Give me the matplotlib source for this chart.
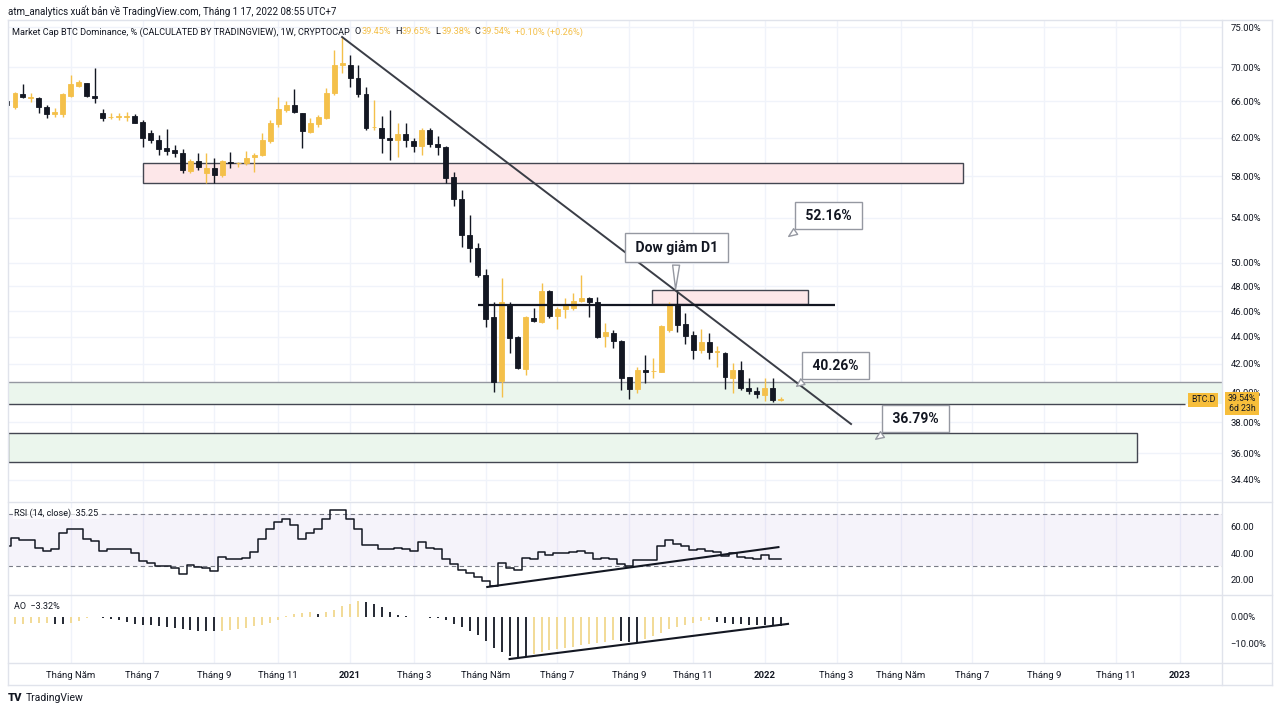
import matplotlib
matplotlib.use('Agg')
import matplotlib.pyplot as plt
import numpy as np
from matplotlib.patches import Rectangle
from matplotlib.lines import Line2D
from matplotlib.ticker import FixedLocator, FuncFormatter, NullLocator

plt.rcParams['font.family'] = ['Roboto', 'DejaVu Sans']

# weekly candles, BTC.D (%), week of 2020-03-09 .. 2022-01-17
opens = [66.07, 65.39, 66.83, 66.40, 66.34, 65.32, 64.57, 64.57, 66.64, 67.79,
         68.08, 66.64, 64.65, 64.25, 64.25, 64.26, 64.35, 63.65, 62.46, 61.74,
         60.87, 60.69, 60.35, 58.54, 59.55, 58.31, 58.87, 58.14, 59.48, 59.30,
         59.32, 59.93, 60.17, 61.66, 63.47, 65.02, 65.54, 64.65, 62.63, 63.47,
         64.09, 66.91, 70.25, 70.25, 68.73, 66.83, 63.09, 63.07, 61.92, 61.74,
         62.35, 61.64, 61.11, 62.82, 61.32, 61.04, 57.91, 55.75, 52.43, 51.30,
         48.94, 45.51, 40.80, 46.48, 43.97, 41.61, 45.43, 45.16, 47.61, 45.61,
         46.14, 46.26, 46.80, 47.02, 46.70, 44.06, 44.27, 43.69, 41.04, 40.20,
         41.56, 41.48, 41.44, 44.52, 46.54, 44.96, 44.14, 43.01, 43.63, 42.88,
         42.81, 41.02, 41.56, 40.31, 40.08, 39.82, 40.31, 39.45]
highs = [66.14, 67.10, 67.99, 67.00, 66.52, 65.58, 65.27, 66.91, 69.05, 68.46,
         68.15, 69.85, 65.09, 64.65, 64.65, 64.82, 64.57, 63.91, 62.82, 62.28,
         62.90, 61.21, 60.76, 59.72, 60.35, 60.35, 59.83, 59.65, 60.51, 59.48,
         60.62, 60.35, 62.46, 63.91, 66.52, 66.03, 67.42, 64.72, 64.09, 64.46,
         67.50, 72.09, 73.72, 71.47, 70.25, 67.68, 66.14, 64.35, 65.02, 63.55,
         63.55, 61.92, 63.00, 63.00, 62.17, 61.11, 58.47, 56.65, 54.27, 51.69,
         49.43, 46.74, 48.67, 46.74, 44.06, 45.61, 46.22, 48.30, 47.69, 46.34,
         47.02, 47.42, 48.94, 47.15, 47.15, 45.08, 44.52, 43.76, 41.08, 41.75,
         42.65, 42.45, 44.91, 46.74, 47.69, 45.82, 44.47, 44.57, 44.31, 43.31,
         42.89, 42.04, 42.24, 40.97, 40.38, 40.97, 40.97, 39.65]
lows = [65.46, 65.09, 66.43, 65.95, 64.72, 64.09, 64.27, 64.27, 66.52, 67.61,
        66.52, 65.77, 63.83, 63.98, 63.91, 63.83, 63.55, 61.04, 61.39, 60.17,
        60.17, 59.99, 58.31, 58.31, 58.64, 57.31, 57.31, 57.97, 58.81, 58.96,
        59.12, 58.47, 60.06, 61.39, 63.17, 64.83, 64.65, 60.87, 62.46, 63.11,
        63.98, 66.72, 69.25, 67.68, 66.52, 62.82, 62.82, 60.35, 59.65, 59.99,
        61.04, 60.51, 60.17, 60.98, 60.17, 57.37, 55.11, 51.39, 50.08, 48.80,
        44.73, 40.04, 39.70, 42.77, 41.61, 41.20, 45.16, 45.04, 45.43, 44.57,
        45.43, 46.08, 46.74, 45.55, 43.89, 43.26, 43.14, 40.15, 39.52, 39.93,
        40.61, 40.97, 41.39, 44.39, 44.39, 43.46, 42.33, 42.77, 42.33, 41.80,
        40.20, 39.97, 40.15, 39.88, 39.59, 39.43, 39.30, 39.38]
closes = [65.54, 66.91, 66.45, 66.50, 65.32, 64.53, 64.76, 66.80, 67.99, 68.27,
          66.64, 66.34, 64.09, 64.29, 64.30, 64.30, 63.61, 61.92, 61.74, 60.76,
          60.62, 60.35, 58.64, 59.58, 58.91, 58.87, 58.14, 59.58, 59.32, 59.35,
          59.83, 60.14, 61.74, 63.55, 65.09, 65.54, 64.79, 62.74, 63.55, 64.21,
          66.99, 70.25, 70.46, 68.66, 66.80, 63.00, 63.14, 61.92, 61.74, 62.35,
          61.74, 61.11, 62.82, 61.32, 60.98, 57.81, 55.75, 52.43, 51.30, 48.94,
          45.37, 40.73, 46.74, 43.89, 41.68, 45.51, 45.22, 47.61, 45.61, 46.14,
          46.48, 46.80, 47.02, 46.70, 44.01, 44.34, 43.69, 40.97, 40.22, 41.56,
          41.42, 41.51, 44.83, 46.54, 44.91, 44.09, 43.01, 43.63, 42.89, 42.91,
          41.08, 41.56, 40.31, 40.08, 39.86, 40.31, 39.44, 39.54]

rsi = [45.3, 51.7, 49.9, 49.9, 44.0, 41.5, 42.7, 55.5, 58.0, 58.0,
       50.9, 49.1, 41.5, 42.7, 42.7, 42.7, 40.2, 33.8, 32.5, 30.0,
       30.0, 28.7, 24.4, 31.0, 29.5, 28.7, 26.2, 37.1, 35.1, 35.1,
       36.4, 40.7, 50.9, 58.5, 63.6, 65.7, 61.1, 50.9, 55.5, 58.0,
       66.2, 72.8, 72.8, 66.2, 58.0, 45.8, 45.8, 43.2, 43.2, 44.0,
       42.7, 41.5, 48.3, 44.0, 42.7, 35.1, 31.3, 26.9, 24.9, 21.8,
       18.5, 15.2, 32.5, 28.7, 27.4, 36.4, 35.6, 40.7, 38.2, 39.7,
       40.2, 40.7, 41.5, 40.2, 35.6, 36.4, 35.1, 31.3, 30.0, 34.6,
       34.6, 34.6, 45.3, 49.9, 46.6, 45.3, 42.2, 43.2, 41.5, 40.7,
       37.6, 40.2, 37.1, 36.4, 35.6, 38.2, 35.1, 35.25]

ao = [np.nan, -2.7, -2.6, -2.5, -2.4, -2.3, -2.6, -2.8, -2.5, -1.6,
      -0.6, -0.2, -0.3, -0.7, -1.3, -2.0, -2.6, -3.0, -3.3, -3.6,
      -4.0, -4.3, -4.6, -4.9, -5.2, -5.4, -5.5, -5.2, -5.0, -4.6,
      -4.2, -3.6, -3.0, -2.2, -1.2, 0.4, 1.0, 1.3, 1.6, 1.2,
      1.9, 2.7, 4.0, 4.9, 5.8, 5.5, 4.8, 3.5, 1.6, 0.5,
      0.1, -0.1, -0.2, -0.4, -0.6, -1.3, -2.6, -3.9, -5.3, -7.0,
      -9.2, -11.7, -13.3, -14.7, -15.0, -15.2, -13.9, -13.3, -12.7, -12.2,
      -11.7, -11.2, -10.7, -10.3, -9.9, -9.5, -8.8, -9.1, -9.4, -9.6,
      -8.2, -7.2, -6.0, -4.8, -3.7, -3.0, -2.4, -1.8, -1.3, -2.0,
      -2.3, -2.6, -2.9, -3.0, -3.1, -3.2, -3.3, -3.32]

price_ticks = [34.4, 36, 38, 40, 42, 44, 46, 48, 50, 54, 58, 62, 66, 70, 75]
month_bars = [8, 17, 26, 34, 43, 51, 60, 69, 78, 86, 95, 104, 112, 121, 130, 139, 147]
month_labels = ['Tháng Năm', 'Tháng 7', 'Tháng 9', 'Tháng 11', '2021', 'Tháng 3',
                'Tháng Năm', 'Tháng 7', 'Tháng 9', 'Tháng 11', '2022', 'Tháng 3',
                'Tháng Năm', 'Tháng 7', 'Tháng 9', 'Tháng 11', '2023']

YEL = '#f4c04a'
BLK = '#131722'
TXT = '#131722'
GRID = '#f0f3fa'
BORDER = '#e0e3eb'

W, H = 1280, 713
def fx(px): return px / W
def fy(py): return 1 - py / H

fig = plt.figure(figsize=(12.8, 7.13), dpi=100)
fig.patch.set_facecolor('white')

def pane(top, bottom):
    return fig.add_axes([fx(8), fy(bottom), fx(1222) - fx(8), (bottom - top) / H])

ax = pane(20, 501)
ax_rsi = pane(502, 595)
ax_ao = pane(595, 663)

XL = (0.125, 152.3)
for a in (ax, ax_rsi, ax_ao):
    a.set_xlim(*XL)
    for s in a.spines.values():
        s.set_visible(False)
    a.set_xticks(month_bars)
    a.xaxis.grid(True, color=GRID, lw=1)
    a.set_axisbelow(True)
    a.yaxis.tick_right()
    a.tick_params(axis='both', length=0, labelsize=6.8, labelcolor=TXT)
    a.tick_params(axis='y', pad=6)
    a.set_facecolor('none')
ax.tick_params(axis='x', labelbottom=False)
ax_rsi.tick_params(axis='x', labelbottom=False)

# ---- main price pane ----
x = np.arange(len(opens))
o = np.array(opens); c = np.array(closes)
col = np.where(c >= o, YEL, BLK)
ax.set_yscale('log')
ax.set_ylim(33.17, 75.91)
ax.yaxis.set_major_locator(FixedLocator(price_ticks))
ax.yaxis.set_minor_locator(NullLocator())
ax.yaxis.set_major_formatter(FuncFormatter(lambda v, p: f'{v:.2f}%'))
ax.yaxis.grid(True, color=GRID, lw=1)

# zones
ax.add_patch(Rectangle((17.0, 57.34), 102.8, 2.01, fc='#fde7e9', ec='#434651', lw=1, zorder=1))
ax.add_patch(Rectangle((XL[0], 39.20), XL[1] - XL[0], 1.53, fc='#ebf6ed', ec='none', zorder=1))
ax.hlines(40.73, XL[0], XL[1], color='#9598a1', lw=1, zorder=1.5)
ax.hlines(39.20, XL[0], 147.6, color='#434651', lw=1, zorder=1.5)
ax.add_patch(Rectangle((XL[0], 35.48), 141.5, 1.81, fc='#ebf6ed', ec='#434651', lw=1, zorder=1))
ax.add_patch(Rectangle((80.8, 46.56), 19.6, 1.13, fc='#fde7e9', ec='#434651', lw=1, zorder=1))

ax.vlines(x, lows, highs, colors=col, lw=1, zorder=3)
ax.bar(x, np.abs(c - o), bottom=np.minimum(o, c), width=0.62, color=col,
       edgecolor=col, lw=0.6, zorder=4)

# trend lines
ax.plot([42.0, 105.8], [73.72, 37.87], color='#3a3d46', lw=1.4, zorder=5)
ax.hlines(46.5, 59.0, 103.8, color=BLK, lw=1.6, zorder=5)

def callout(text, tip, center, rel, fs=10):
    ax.annotate(text, xy=tip, xytext=center, ha='center', va='center', fontsize=fs,
                fontweight='bold', color=TXT, zorder=8,
                bbox=dict(boxstyle='square,pad=0.5', fc='white', ec='#9598a1', lw=1),
                arrowprops=dict(arrowstyle='wedge,tail_width=0.5,shrink_factor=0.5',
                                fc='white', ec='#9598a1', lw=1, relpos=rel))

callout(' 52.16% ', (97.7, 52.16), (103.0, 54.22), (0.12, 0.0))
callout(' 40.26% ', (98.7, 40.29), (103.8, 41.88), (0.12, 0.0))
callout(' 36.79% ', (108.6, 36.79), (113.9, 38.23), (0.12, 0.0))
callout(' Dow giảm D1 ', (83.8, 47.54), (83.9, 51.32), (0.5, 0.0))

# ---- RSI pane ----
ax_rsi.set_ylim(8.1, 78.8)
ax_rsi.axhspan(30, 70, color='#7e57c2', alpha=0.07, lw=0)
ax_rsi.axhline(70, color='#787b86', lw=0.8, ls=(0, (4, 3)))
ax_rsi.axhline(30, color='#787b86', lw=0.8, ls=(0, (4, 3)))
ax_rsi.step(x, rsi, where='mid', color=BLK, lw=1.1)
ax_rsi.plot([60.2, 96.7], [14.2, 44.5], color=BLK, lw=1.5)
ax_rsi.yaxis.set_major_locator(FixedLocator([20, 40, 60]))
ax_rsi.yaxis.set_major_formatter(FuncFormatter(lambda v, p: f'{v:.2f}'))
ax_rsi.text(0.005, 0.88, 'RSI (14, close)  35.25', transform=ax_rsi.transAxes,
            fontsize=6.5, color=TXT, va='center',
            bbox=dict(fc='white', ec='none', pad=0.5, alpha=0.7))

# ---- AO pane ----
ax_ao.set_ylim(-17.4, 8.16)
aov = np.array(ao)
ao_col = ['#f1d88e' if (i == 1 or aov[i] >= aov[i - 1]) else BLK for i in range(len(aov))]
ax_ao.vlines(x, 0, np.nan_to_num(aov), colors=ao_col, lw=1.3)
ax_ao.plot([63.0, 97.9], [-15.9, -2.7], color=BLK, lw=1.5)
ax_ao.yaxis.set_major_locator(FixedLocator([-10, 0]))
ax_ao.yaxis.set_major_formatter(FuncFormatter(lambda v, p: f'{v:.2f}%'.replace('-', '\u2212')))
ax_ao.text(0.005, 0.83, 'AO  \u22123.32%', transform=ax_ao.transAxes, fontsize=6.5,
           color=TXT, va='center')
ax_ao.set_xticks(month_bars)
ax_ao.set_xticklabels(month_labels)
ax_ao.tick_params(axis='x', pad=6)
for lab in ax_ao.get_xticklabels():
    if lab.get_text().isdigit():
        lab.set_fontweight('bold')

# ---- frame & separators ----
def fline(x0, y0, x1, y1, color=BORDER, lw=1):
    fig.add_artist(Line2D([fx(x0), fx(x1)], [fy(y0), fy(y1)], color=color, lw=lw))

fline(8, 20, 1272, 20)
fline(8, 685, 1272, 685)
fline(8, 20, 8, 685)
fline(1272, 20, 1272, 685)
fline(1222, 20, 1222, 685)
fline(8, 501.5, 1272, 501.5)
fline(8, 595, 1272, 595)
fline(8, 663, 1272, 663)

# ---- header ----
fig.text(fx(8), fy(11), 'atm_analytics xuất bản về TradingView.com, Tháng 1 17, 2022 08:55 UTC+7',
         fontsize=7, color=TXT, va='center')

renderer = fig.canvas.get_renderer()
hdr = [('Market Cap BTC Dominance, % (CALCULATED BY TRADINGVIEW), 1W, CRYPTOCAP', TXT, 5),
       ('O', TXT, 0.5), ('39.45%', YEL, 4), ('H', TXT, 0.5), ('39.65%', YEL, 4),
       ('L', TXT, 0.5), ('39.38%', YEL, 4), ('C', TXT, 0.5), ('39.54%', YEL, 4),
       ('+0.10% (+0.26%)', YEL, 0)]
px = 12
for s, cc, gap in hdr:
    t = fig.text(fx(px), fy(32), s, fontsize=6.6, color=cc, va='center')
    px += t.get_window_extent(renderer=renderer).width + gap

# right-side price labels
fig.text(fx(1203), fy(400), 'BTC.D', fontsize=6.3, color=TXT, ha='center', va='center',
         bbox=dict(fc='#f7be3b', ec='none', boxstyle='square,pad=0.3'), zorder=10)
fig.text(fx(1242), fy(403.5), '39.54%\n6d 23h', fontsize=6.3, color=TXT, ha='center',
         va='center', linespacing=1.1,
         bbox=dict(fc='#f7be3b', ec='none', boxstyle='square,pad=0.3'), zorder=10)

# footer
fig.text(fx(8), fy(698), 'TV', fontsize=8, fontweight='heavy', color=TXT, va='center')
fig.text(fx(26), fy(698), 'TradingView', fontsize=7.5, color=TXT, va='center')

fig.savefig('out.png', dpi=100)
